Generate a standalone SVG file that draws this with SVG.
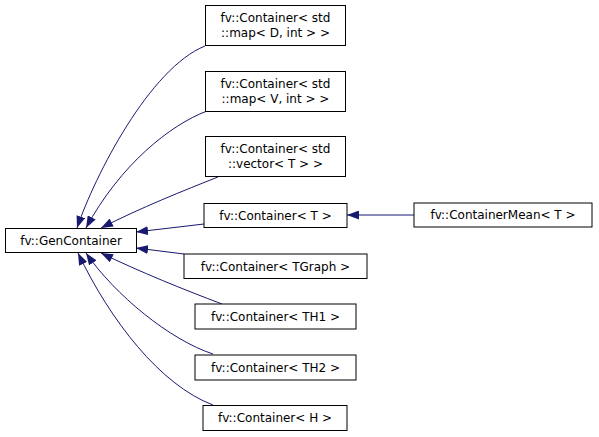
<svg xmlns="http://www.w3.org/2000/svg" width="599" height="437" viewBox="0 0 599 437">
<style>
.box{fill:#fff;stroke:#000;stroke-width:1}
.t{font-family:"DejaVu Sans",sans-serif;font-size:12px;fill:#000;text-anchor:middle}
.e{fill:none;stroke:#191970;stroke-width:1;marker-end:url(#ah)}
</style>
<defs>
<marker id="ah" viewBox="0 0 12 9" refX="12" refY="4.5" markerWidth="12" markerHeight="9" markerUnits="userSpaceOnUse" orient="auto">
<path d="M0,0 L12,4.5 L0,9 z" fill="#191970"/>
</marker>
</defs>
<rect width="599" height="437" fill="#fff"/>
<g id="edges">
<path class="e" d="M205,46 C150,68 95,175 77,228"/>
<path class="e" d="M207,111 C170,125 120,165 86,228"/>
<path class="e" d="M218,177 C185,190 140,208 101,228"/>
<path class="e" d="M204,224 L136,232"/>
<path class="e" d="M184,254 L136,248"/>
<path class="e" d="M222,304 C185,290 140,272 101,253"/>
<path class="e" d="M213,354 C170,340 115,295 86,253"/>
<path class="e" d="M213,405 C160,385 110,320 78,253"/>
<path class="e" d="M414,215 L347,215"/>
</g>
<g id="GenContainer">
<rect class="box" x="5.5" y="228.5" width="131" height="24"/>
<text class="t" x="71" y="244.5">fv::GenContainer</text>
</g>
<g id="ContainerMapD">
<rect class="box" x="205.5" y="5.5" width="140" height="40"/>
<text class="t" x="275.5" y="22">fv::Container&lt; std</text>
<text class="t" x="275.5" y="37">::map&lt; D, int &gt; &gt;</text>
</g>
<g id="ContainerMapV">
<rect class="box" x="205.5" y="71.5" width="140" height="40"/>
<text class="t" x="275.5" y="88">fv::Container&lt; std</text>
<text class="t" x="275.5" y="103">::map&lt; V, int &gt; &gt;</text>
</g>
<g id="ContainerVector">
<rect class="box" x="205.5" y="136.5" width="140" height="40"/>
<text class="t" x="275.5" y="153">fv::Container&lt; std</text>
<text class="t" x="275.5" y="168">::vector&lt; T &gt; &gt;</text>
</g>
<g id="ContainerT">
<rect class="box" x="204" y="203.5" width="143" height="24"/>
<text class="t" x="275.5" y="219.5">fv::Container&lt; T &gt;</text>
</g>
<g id="ContainerMean">
<rect class="box" x="414" y="203" width="178" height="24"/>
<text class="t" x="503" y="219">fv::ContainerMean&lt; T &gt;</text>
</g>
<g id="ContainerTGraph">
<rect class="box" x="184" y="254" width="183" height="24.5"/>
<text class="t" x="275.5" y="270.5">fv::Container&lt; TGraph &gt;</text>
</g>
<g id="ContainerTH1">
<rect class="box" x="195" y="304" width="161" height="25"/>
<text class="t" x="275.5" y="320.5">fv::Container&lt; TH1 &gt;</text>
</g>
<g id="ContainerTH2">
<rect class="box" x="195" y="355" width="161" height="25"/>
<text class="t" x="275.5" y="371.5">fv::Container&lt; TH2 &gt;</text>
</g>
<g id="ContainerH">
<rect class="box" x="203" y="405.5" width="144" height="25"/>
<text class="t" x="275" y="422">fv::Container&lt; H &gt;</text>
</g>
</svg>
